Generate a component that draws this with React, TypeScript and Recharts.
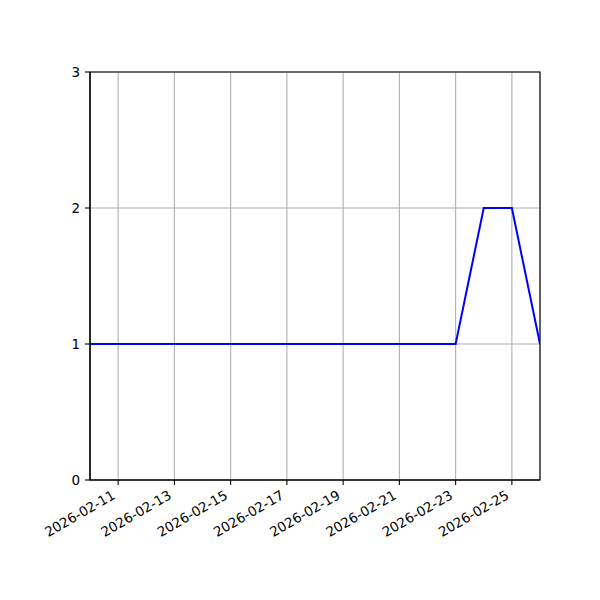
import React from "react";
import { LineChart, Line, XAxis, YAxis, CartesianGrid, ReferenceArea } from "recharts";

const dates = [
  "2026-02-10", "2026-02-11", "2026-02-12", "2026-02-13", "2026-02-14", "2026-02-15",
  "2026-02-16", "2026-02-17", "2026-02-18", "2026-02-19", "2026-02-20", "2026-02-21",
  "2026-02-22", "2026-02-23", "2026-02-24", "2026-02-25", "2026-02-26",
];
const values = [1, 1, 1, 1, 1, 1, 1, 1, 1, 1, 1, 1, 1, 1, 2, 2, 1];
const xTickLabels = [
  "2026-02-11", "2026-02-13", "2026-02-15", "2026-02-17",
  "2026-02-19", "2026-02-21", "2026-02-23", "2026-02-25",
];
const yTicks = [0, 1, 2, 3];

const toTs = (s: string) => {
  const [y, m, d] = s.split("-").map(Number);
  return Date.UTC(y, m - 1, d);
};
const fmt = (t: number) => {
  const d = new Date(t);
  const mm = String(d.getUTCMonth() + 1).padStart(2, "0");
  const dd = String(d.getUTCDate()).padStart(2, "0");
  return `${d.getUTCFullYear()}-${mm}-${dd}`;
};

const data = dates.map((d, i) => ({ t: toTs(d), v: values[i] }));
const xStart = toTs(dates[0]);
const xEnd = toTs(dates[dates.length - 1]);
const xTicks = xTickLabels.map(toTs);

const FONT = "'DejaVu Sans'";

const XTick = (props: any) => {
  const { x, y, payload } = props;
  return (
    <g transform={`translate(${x - 2},${y + 11})`}>
      <text
        x={0}
        y={0}
        textAnchor="end"
        transform="rotate(-30)"
        style={{ fontFamily: FONT, fontSize: "13.5px" }}
        fill="#000"
      >
        {fmt(payload.value)}
      </text>
    </g>
  );
};

const YTick = (props: any) => {
  const { x, y, payload } = props;
  return (
    <text
      x={x}
      y={y}
      dy={5}
      textAnchor="end"
      style={{ fontFamily: FONT, fontSize: "13.5px" }}
      fill="#000"
    >
      {payload.value}
    </text>
  );
};

export default function App() {
  return (
    <div style={{ position: "absolute", left: 0, top: 0, width: 600, height: 600, background: "#fff" }}>
      <LineChart
        width={600}
        height={600}
        data={data}
        margin={{ top: 72, right: 60, bottom: 60, left: 40 }}
      >
        <CartesianGrid stroke="#b0b0b0" strokeWidth={1.1} />
        <XAxis
          dataKey="t"
          type="number"
          scale="time"
          domain={[xStart, xEnd]}
          ticks={xTicks}
          tick={<XTick />}
          tickSize={5}
          tickMargin={2}
          height={60}
          axisLine={{ stroke: "#000", strokeWidth: 1.1 }}
          tickLine={{ stroke: "#000", strokeWidth: 1.1 }}
          interval={0}
          allowDataOverflow
        />
        <YAxis
          type="number"
          domain={[0, 3]}
          ticks={yTicks}
          width={50}
          tickSize={5}
          tickMargin={5}
          axisLine={{ stroke: "#000", strokeWidth: 1.1 }}
          tickLine={{ stroke: "#000", strokeWidth: 1.1 }}
          tick={<YTick />}
          interval={0}
          allowDataOverflow
        />
        <ReferenceArea
          x1={xStart}
          x2={xEnd}
          y1={0}
          y2={3}
          fill="none"
          fillOpacity={0}
          stroke="#000"
          strokeWidth={1.1}
        />
        <Line
          type="linear"
          dataKey="v"
          stroke="#0000ff"
          strokeWidth={2}
          dot={false}
          isAnimationActive={false}
        />
      </LineChart>
    </div>
  );
}
